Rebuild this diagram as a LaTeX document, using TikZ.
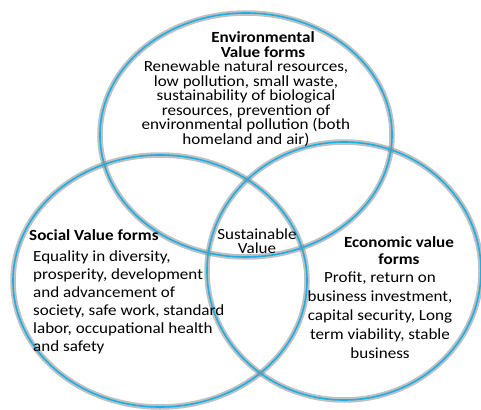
\documentclass[tikz,border=0pt]{standalone}
\usepackage{fontspec}
\setmainfont[FakeStretch=1.1]{Carlito}
\usepackage{xcolor,tikz}
\definecolor{ringblue}{HTML}{1CAEE6}
\definecolor{ringshade}{HTML}{8C8C8C}

\tikzset{
  ring/.style={draw=ringblue,line width=1.6pt},
  ringshadow/.style={draw=ringshade,line width=5.5pt,opacity=.55},
  head/.style={font=\fontsize{15.5}{#1}\selectfont\bfseries,inner sep=0pt},
  body/.style={font=\fontsize{15.5}{#1}\selectfont,inner sep=0pt},
}

\begin{document}
\begin{tikzpicture}[x=1pt,y=-1pt]
\useasboundingbox (0,0) rectangle (481,409);
\foreach \cx/\cy/\rx/\ry in {246/135/146/122,160/281/147/126,344/271/137/129}{
  \draw[ringshadow] (\cx,\cy) ellipse [x radius=\rx,y radius=\ry];
  \draw[ring] (\cx,\cy) ellipse [x radius=\rx,y radius=\ry];
}
\node[head=14.5,align=center] (envhead) at (263,44.5) {Environmental\\Value forms};
\node[body=14.5,align=center] (envbody) at (246,103.5) {Renewable natural resources,\\low pollution, small waste,\\sustainability of biological\\resources, prevention of\\environmental pollution (both\\homeland and air)};
\node[head=15,anchor=west] (sochead) at (29,235) {Social Value forms};
\node[body=18,align=left,anchor=west] (socbody) at (33,302) {Equality in diversity,\\prosperity, development\\and advancement of\\society, safe work, standard\\labor, occupational health\\and safety};
\node[head=17,align=center] (ecohead) at (399,250.5) {Economic value\\forms};
\node[body=19,align=center] (ecobody) at (380,315) {Profit, return on\\business investment,\\capital security, Long\\term viability, stable\\business};
\node[body=14,align=center] (susvalue) at (257,241) {Sustainable\\Value};
\end{tikzpicture}
\end{document}
